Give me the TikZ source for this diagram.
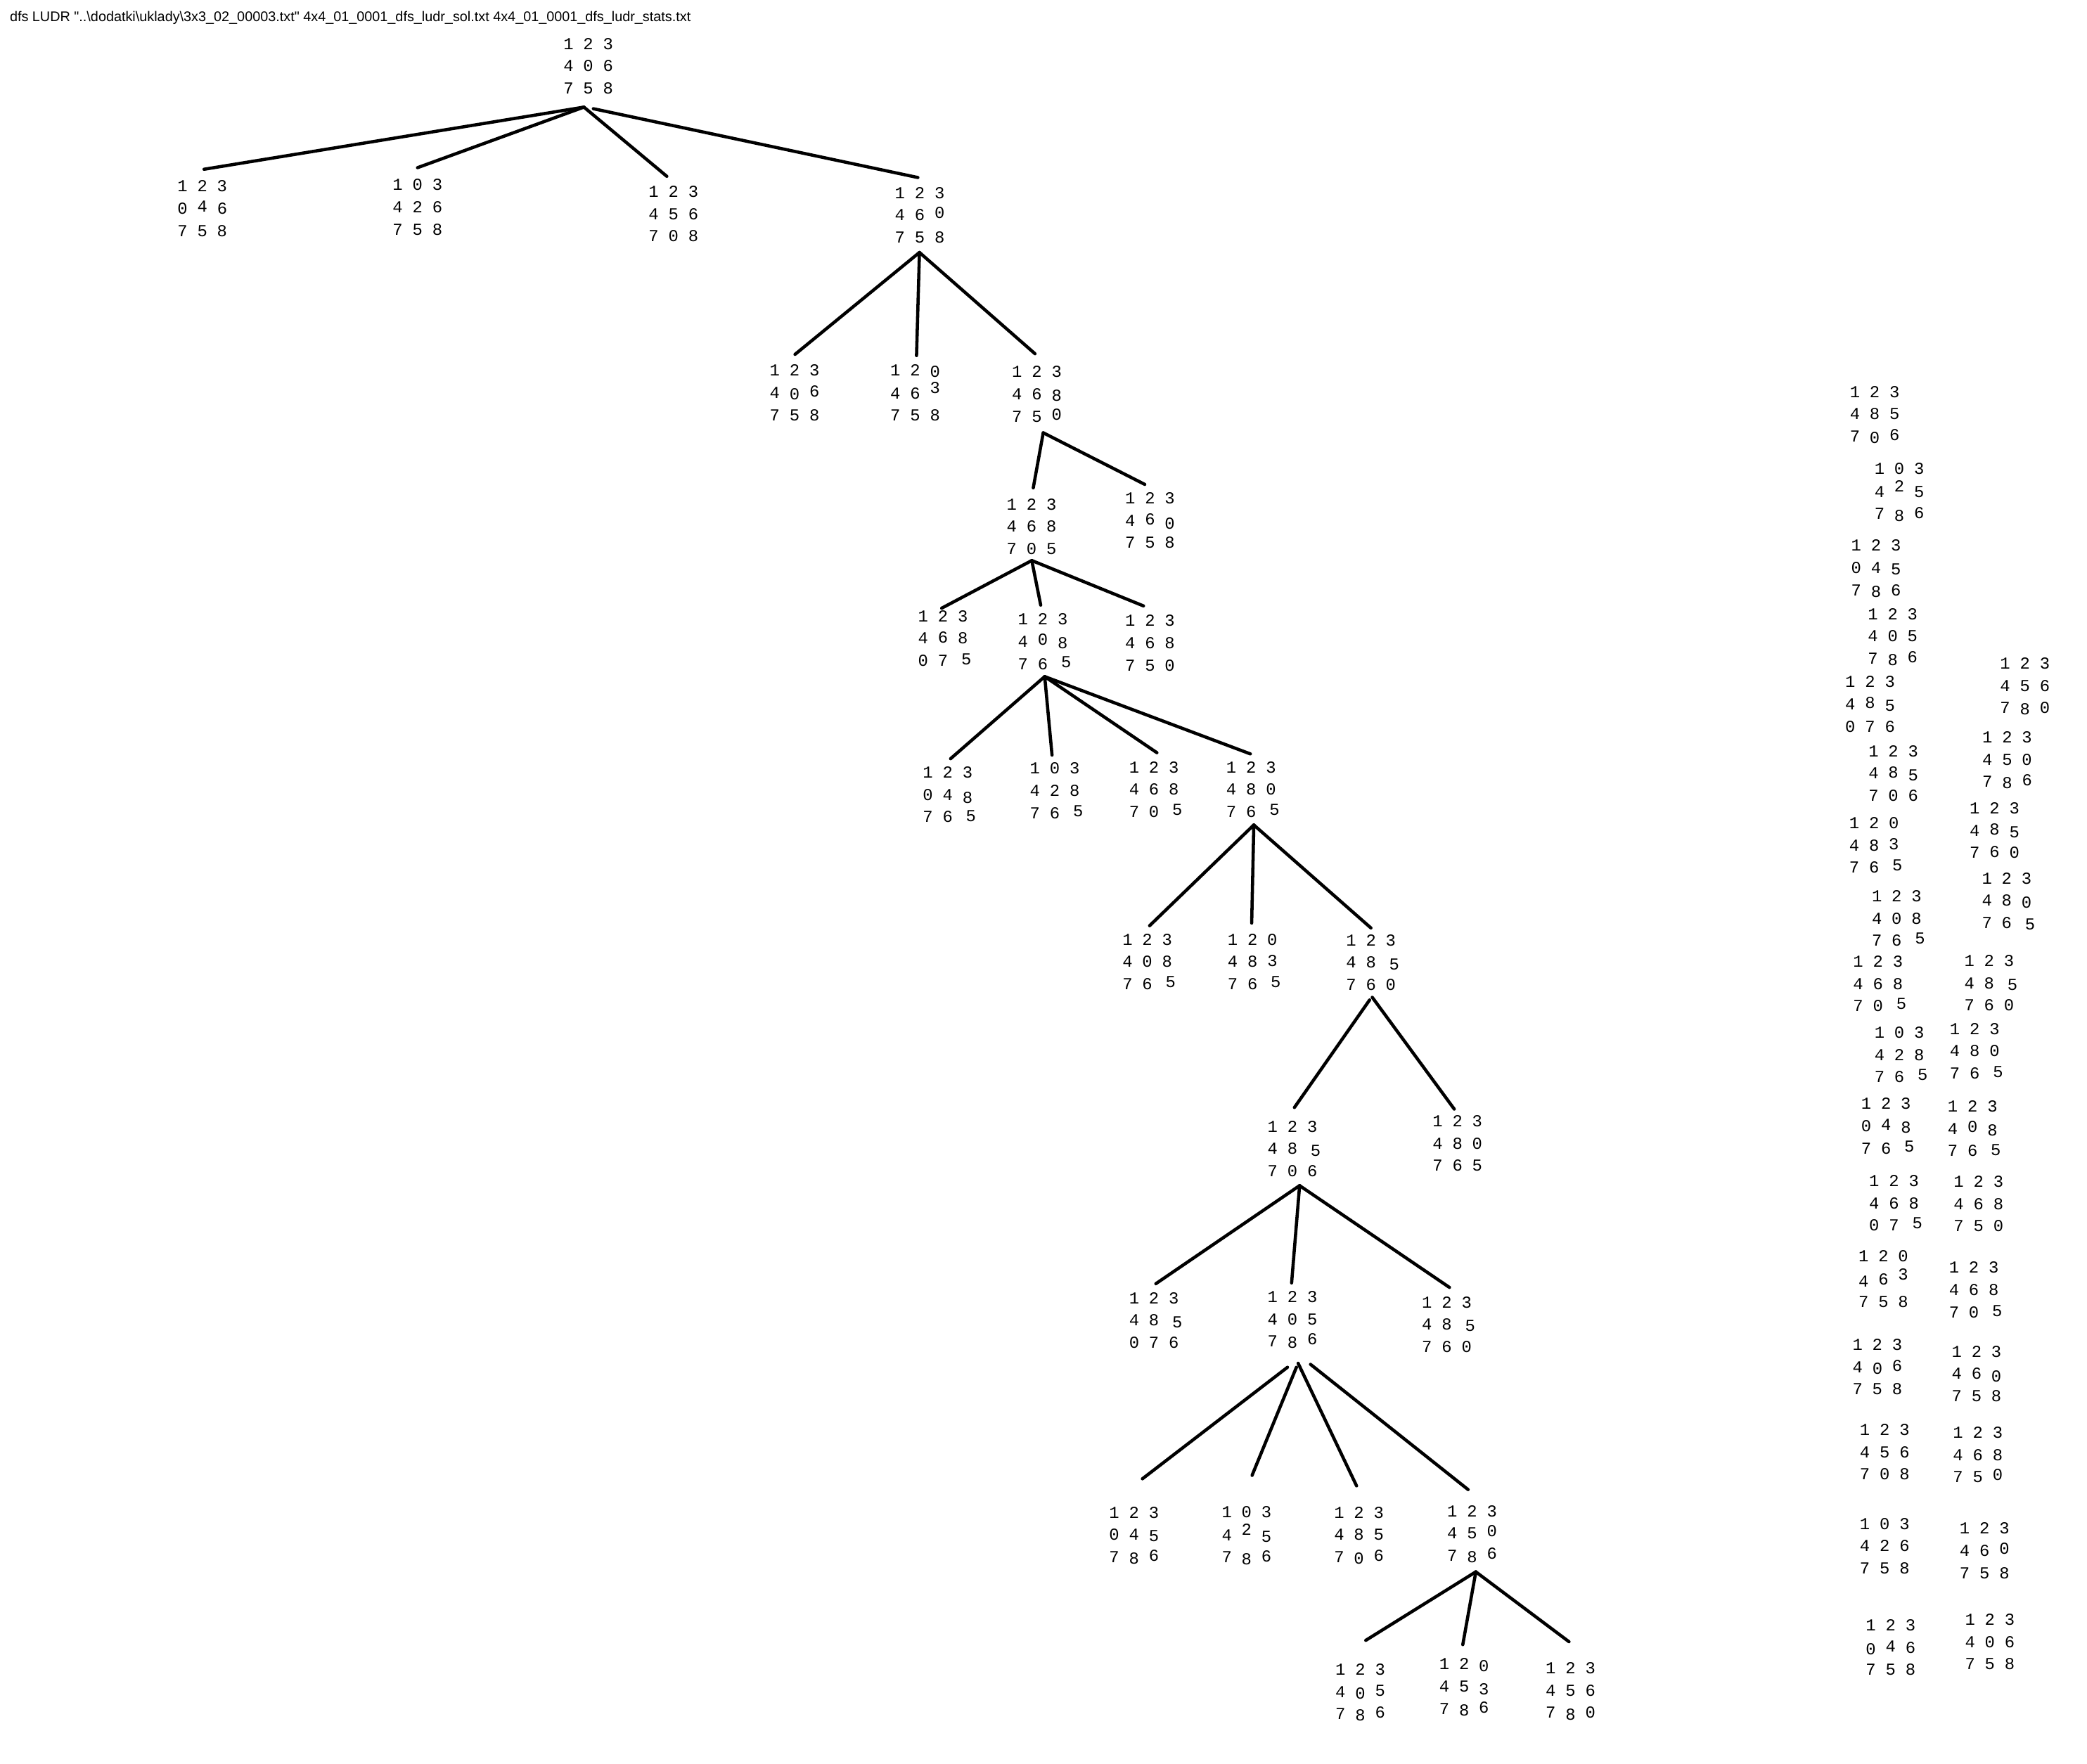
\documentclass[tikz,border=0pt]{standalone}
\usepackage{fontspec}
\usepackage{graphicx}
\newfontfamily\pzfam{Liberation Mono}
\newfontfamily\ttlfam{Liberation Sans}
\newcommand\pzfont{\pzfam\fontsize{6.3pt}{8.35pt}\selectfont}
\newcommand\pzd[1]{\makebox[7.45pt]{#1}}
\newcommand\pz[9]{\begin{tabular}{@{}c@{}c@{}c@{}}\pzd{#1}&\pzd{#2}&\pzd{#3}\\\pzd{#4}&\pzd{#5}&\pzd{#6}\\\pzd{#7}&\pzd{#8}&\pzd{#9}\end{tabular}}
\newcommand\ju[1]{\raisebox{0.8pt}{#1}}
\newcommand\jus[1]{\raisebox{0.45pt}{#1}}
\newcommand\juu[1]{\raisebox{2pt}{#1}}
\newcommand\jd[1]{\raisebox{-0.6pt}{#1}}
\newcommand\jdd[1]{\raisebox{-1.1pt}{#1}}
\newcommand\jr[1]{\hspace*{2.6pt}#1}
\tikzset{
  pzl/.style={inner sep=0pt, minimum height=29pt, font=\pzfont},
  tedge/.style={line width=1.2pt, line cap=round, black},
  ttl/.style={inner sep=0pt, anchor=base west, font=\ttlfam\fontsize{5.2pt}{6pt}\selectfont}
}
\begin{document}
\begin{tikzpicture}[x=0.5pt, y=-0.5pt]
\fill[white] (0,0) rectangle (1568,1325);
\useasboundingbox (0,0) rectangle (1568,1325);

\node[ttl] (title) at (7,16.2) {\resizebox{255.8pt}{!}{dfs LUDR "..\textbackslash dodatki\textbackslash uklady\textbackslash 3x3\_02\_00003.txt" 4x4\_01\_0001\_dfs\_ludr\_sol.txt 4x4\_01\_0001\_dfs\_ludr\_stats.txt}};

% ---------------- tree ----------------
\node[pzl] (R)  at (442,50.5)   {\pz{1}{2}{3}{4}{0}{6}{7}{5}{8}};
\node[pzl] (A1) at (152,157.5)  {\pz{1}{2}{3}{0}{\ju{4}}{6}{7}{5}{8}};
\node[pzl] (A2) at (313.7,156.5){\pz{1}{0}{3}{4}{2}{6}{7}{5}{8}};
\node[pzl] (A3) at (506,161.5)  {\pz{1}{2}{3}{4}{5}{6}{7}{0}{8}};
\node[pzl] (A4) at (691,162.5)  {\pz{1}{2}{3}{4}{6}{\ju{0}}{7}{5}{8}};
\node[pzl] (B1) at (597,296)    {\pz{1}{2}{3}{4}{\jd{0}}{\jus{6}}{7}{5}{8}};
\node[pzl] (B2) at (687.6,296)  {\pz{1}{2}{\jd{0}}{4}{6}{\juu{3}}{7}{5}{8}};
\node[pzl] (B3) at (779,297)    {\pz{1}{2}{3}{4}{6}{\jd{8}}{7}{5}{\ju{0}}};
\node[pzl] (C1) at (775,396.5)  {\pz{1}{2}{3}{4}{6}{8}{7}{0}{5}};
\node[pzl] (C2) at (864,392)    {\pz{1}{2}{3}{4}{\jus{6}}{\jdd{0}}{7}{5}{8}};
\node[pzl] (D1) at (708.5,480.5){\pz{1}{2}{3}{4}{\jus{6}}{8}{0}{7}{\jr{\jus{5}}}};
\node[pzl] (D2) at (783.5,483)  {\pz{1}{2}{3}{4}{\ju{0}}{\jd{8}}{7}{6}{\jr{\ju{5}}}};
\node[pzl] (D3) at (864,484)    {\pz{1}{2}{3}{4}{6}{8}{7}{5}{0}};
\node[pzl] (E1) at (712,598)    {\pz{1}{2}{3}{0}{4}{\jdd{8}}{7}{6}{\jr{\jus{5}}}};
\node[pzl] (E2) at (792.5,595)  {\pz{1}{0}{3}{4}{2}{8}{7}{6}{\jr{\ju{5}}}};
\node[pzl] (E3) at (867,594)    {\pz{1}{2}{3}{4}{6}{8}{7}{0}{\jr{\ju{5}}}};
\node[pzl] (E4) at (940,594)    {\pz{1}{2}{3}{4}{8}{0}{7}{6}{\jr{\ju{5}}}};
\node[pzl] (F1) at (862,723.5)  {\pz{1}{2}{3}{4}{0}{8}{7}{6}{\jr{\ju{5}}}};
\node[pzl] (F2) at (941,723.5)  {\pz{1}{2}{0}{4}{8}{\jus{3}}{7}{6}{\jr{\ju{5}}}};
\node[pzl] (F3) at (1030,724)   {\pz{1}{2}{3}{4}{8}{\jr{\jd{5}}}{7}{6}{0}};
\node[pzl] (G1) at (971,864)    {\pz{1}{2}{3}{4}{8}{\jr{\jd{5}}}{7}{0}{6}};
\node[pzl] (G2) at (1095,860)   {\pz{1}{2}{3}{4}{8}{0}{7}{6}{5}};
\node[pzl] (H1) at (867,993)    {\pz{1}{2}{3}{4}{8}{\jr{\jd{5}}}{0}{7}{6}};
\node[pzl] (H2) at (971,992)    {\pz{1}{2}{3}{4}{0}{5}{7}{\jd{8}}{\ju{6}}};
\node[pzl] (H3) at (1087,996)   {\pz{1}{2}{3}{4}{8}{\jr{\jd{5}}}{7}{6}{0}};
\node[pzl] (I1) at (852,1154)   {\pz{1}{2}{3}{0}{4}{\jd{5}}{7}{\jd{8}}{\jus{6}}};
\node[pzl] (I2) at (936.6,1154) {\pz{1}{0}{3}{4}{\juu{2}}{\jd{5}}{7}{\jd{8}}{\jus{6}}};
\node[pzl] (I3) at (1021,1154)  {\pz{1}{2}{3}{4}{8}{5}{7}{\jd{0}}{\jus{6}}};
\node[pzl] (I4) at (1106,1153)  {\pz{1}{2}{3}{4}{5}{\ju{0}}{7}{\jd{8}}{\ju{6}}};
\node[pzl] (J1) at (1022,1272)  {\pz{1}{2}{3}{4}{\jd{0}}{\jus{5}}{7}{\jd{8}}{\jus{6}}};
\node[pzl] (J2) at (1100,1268)  {\pz{1}{2}{\jd{0}}{4}{5}{\jdd{3}}{7}{\jd{8}}{\jus{6}}};
\node[pzl] (J3) at (1180,1271)  {\pz{1}{2}{3}{4}{5}{6}{7}{\jd{8}}{0}};

% edges
\draw[tedge] ([shift={(-3.3,0.6)}]R.south) -- ([shift={(1.3,-0.9)}]A1.north);
\draw[tedge] ([shift={(-3.3,0.6)}]R.south) -- ([shift={(0,-1.1)}]A2.north);
\draw[tedge] ([shift={(-3.3,0.6)}]R.south) -- ([shift={(-5,0.4)}]A3.north);
\draw[tedge] ([shift={(3.8,1.8)}]R.south) -- ([shift={(-1.4,0.3)}]A4.north);

\draw[tedge] ([shift={(-0.2,-2.2)}]A4.south) -- ([shift={(0.3,-0.3)}]B1.north);
\draw[tedge] ([shift={(-0.2,-2.2)}]A4.south) -- ([shift={(1,0.6)}]B2.north);
\draw[tedge] ([shift={(-0.2,-2.2)}]A4.south) -- ([shift={(-1.4,-1.8)}]B3.north);

\draw[tedge] ([shift={(4.8,-1.2)}]B3.south) -- ([shift={(1.3,-0.5)}]C1.north);
\draw[tedge] ([shift={(4.8,-1.2)}]B3.south) -- ([shift={(-3.9,1.4)}]C2.north);

\draw[tedge] ([shift={(0.2,-4.7)}]C1.south) -- ([shift={(-1,5.9)}]D1.north);
\draw[tedge] ([shift={(0.2,-4.7)}]C1.south) -- ([shift={(-1.6,1.1)}]D2.north);
\draw[tedge] ([shift={(0.2,-4.7)}]C1.south) -- ([shift={(-4.9,0.7)}]D3.north);

\draw[tedge] ([shift={(1.4,-4)}]D2.south) -- ([shift={(2.2,1.5)}]E1.north);
\draw[tedge] ([shift={(1.4,-4)}]D2.south) -- ([shift={(-2.1,1.8)}]E2.north);
\draw[tedge] ([shift={(1.4,-4)}]D2.south) -- ([shift={(2.2,1)}]E3.north);
\draw[tedge] ([shift={(1.4,-4)}]D2.south) -- ([shift={(-0.6,1.9)}]E4.north);

\draw[tedge] ([shift={(2,-3.5)}]E4.south) -- ([shift={(1.7,1.5)}]F1.north);
\draw[tedge] ([shift={(2,-3.5)}]E4.south) -- ([shift={(-0.6,-0.5)}]F2.north);
\draw[tedge] ([shift={(2,-3.5)}]E4.south) -- ([shift={(0,2.7)}]F3.north);

\draw[tedge] ([shift={(-1,-2)}]F3.south) -- ([shift={(1.5,-2.4)}]G1.north);
\draw[tedge] ([shift={(1,-4)}]F3.south) -- ([shift={(-2.4,2.8)}]G2.north);

\draw[tedge] ([shift={(5.4,-2.5)}]G1.south) -- ([shift={(1.4,1)}]H1.north);
\draw[tedge] ([shift={(5.4,-2.5)}]G1.south) -- ([shift={(-0.6,1.4)}]H2.north);
\draw[tedge] ([shift={(5.4,-2.5)}]G1.south) -- ([shift={(2,0.8)}]H3.north);

\draw[tedge] ([shift={(-3.7,6)}]H2.south) -- ([shift={(6.3,-13.4)}]I1.north);
\draw[tedge] ([shift={(3,6)}]H2.south) -- ([shift={(4.1,-16)}]I2.north);
\draw[tedge] ([shift={(4.3,3)}]H2.south) -- ([shift={(-1.8,-8.1)}]I3.north);
\draw[tedge] ([shift={(13.6,3.8)}]H2.south) -- ([shift={(-3,-4.3)}]I4.north);

\draw[tedge] ([shift={(2.8,-1.3)}]I4.south) -- ([shift={(4.1,-10)}]J1.north);
\draw[tedge] ([shift={(2.8,-1.3)}]I4.south) -- ([shift={(-1,-2.8)}]J2.north);
\draw[tedge] ([shift={(2.8,-1.3)}]I4.south) -- ([shift={(-1.2,-8)}]J3.north);

% ---------------- right columns ----------------
\node[pzl] (Q1)  at (1408.5,312)  {\pz{1}{2}{3}{4}{8}{5}{7}{\jd{0}}{\jus{6}}};
\node[pzl] (Q2)  at (1427,370)    {\pz{1}{0}{3}{4}{\juu{2}}{5}{7}{\jd{8}}{\jus{6}}};
\node[pzl] (Q3)  at (1409.5,427.5){\pz{1}{2}{3}{0}{4}{\jd{5}}{7}{\jd{8}}{6}};
\node[pzl] (Q4)  at (1422,479)    {\pz{1}{2}{3}{4}{0}{5}{7}{\jd{8}}{\jus{6}}};
\node[pzl] (Q5)  at (1405,530)    {\pz{1}{2}{3}{4}{\jus{8}}{\jd{5}}{0}{7}{6}};
\node[pzl] (Q6)  at (1422.5,582)  {\pz{1}{2}{3}{4}{\jus{8}}{\jd{5}}{7}{0}{6}};
\node[pzl] (Q7)  at (1408,636)    {\pz{1}{2}{0}{4}{8}{\jus{3}}{7}{6}{\jr{\ju{5}}}};
\node[pzl] (Q8)  at (1425,691)    {\pz{1}{2}{3}{4}{0}{8}{7}{6}{\jr{\ju{5}}}};
\node[pzl] (Q9)  at (1411,740)    {\pz{1}{2}{3}{4}{6}{8}{7}{0}{\jr{\ju{5}}}};
\node[pzl] (Q10) at (1427,793.5)  {\pz{1}{0}{3}{4}{2}{8}{7}{6}{\jr{\ju{5}}}};
\node[pzl] (Q11) at (1417,847)    {\pz{1}{2}{3}{0}{\jus{4}}{\jd{8}}{7}{6}{\jr{\ju{5}}}};
\node[pzl] (Q12) at (1423,905)    {\pz{1}{2}{3}{4}{6}{8}{0}{7}{\jr{\ju{5}}}};
\node[pzl] (Q13) at (1415,962)    {\pz{1}{2}{0}{\jd{4}}{6}{\juu{3}}{7}{5}{8}};
\node[pzl] (Q14) at (1410.5,1028) {\pz{1}{2}{3}{4}{\jd{0}}{\jus{6}}{7}{5}{8}};
\node[pzl] (Q15) at (1416,1092)   {\pz{1}{2}{3}{4}{5}{6}{7}{0}{8}};
\node[pzl] (Q16) at (1416,1162.5) {\pz{1}{0}{3}{4}{2}{6}{7}{5}{8}};
\node[pzl] (Q17) at (1420.5,1238.8){\pz{1}{2}{3}{\jd{0}}{\jus{4}}{6}{7}{5}{8}};

\node[pzl] (S1)  at (1521.4,516)  {\pz{1}{2}{3}{4}{5}{6}{7}{\jd{8}}{0}};
\node[pzl] (S2)  at (1508,571.5)  {\pz{1}{2}{3}{4}{5}{0}{7}{\jd{8}}{\jus{6}}};
\node[pzl] (S3)  at (1498.5,625)  {\pz{1}{2}{3}{4}{\jus{8}}{\jd{5}}{7}{\jus{6}}{0}};
\node[pzl] (S4)  at (1507.7,677.6){\pz{1}{2}{3}{4}{8}{\jd{0}}{7}{6}{\jr{\jd{5}}}};
\node[pzl] (S5)  at (1494.5,739.5){\pz{1}{2}{3}{4}{8}{\jr{\jd{5}}}{7}{6}{0}};
\node[pzl] (S6)  at (1483.6,790.5){\pz{1}{2}{3}{4}{8}{0}{7}{6}{\jr{\jus{5}}}};
\node[pzl] (S7)  at (1482,849)    {\pz{1}{2}{3}{4}{\ju{0}}{\jd{8}}{7}{6}{\jr{\jus{5}}}};
\node[pzl] (S8)  at (1486.5,905.5){\pz{1}{2}{3}{4}{6}{8}{7}{5}{0}};
\node[pzl] (S9)  at (1483,970)    {\pz{1}{2}{3}{4}{6}{8}{7}{0}{\jr{\jus{5}}}};
\node[pzl] (S10) at (1485,1033)   {\pz{1}{2}{3}{4}{6}{\jdd{0}}{7}{5}{8}};
\node[pzl] (S11) at (1486,1094)   {\pz{1}{2}{3}{4}{6}{8}{7}{5}{\ju{0}}};
\node[pzl] (S12) at (1491,1166)   {\pz{1}{2}{3}{4}{6}{\ju{0}}{7}{5}{8}};
\node[pzl] (S13) at (1495,1234.5) {\pz{1}{2}{3}{4}{0}{6}{7}{5}{8}};
\end{tikzpicture}
\end{document}
